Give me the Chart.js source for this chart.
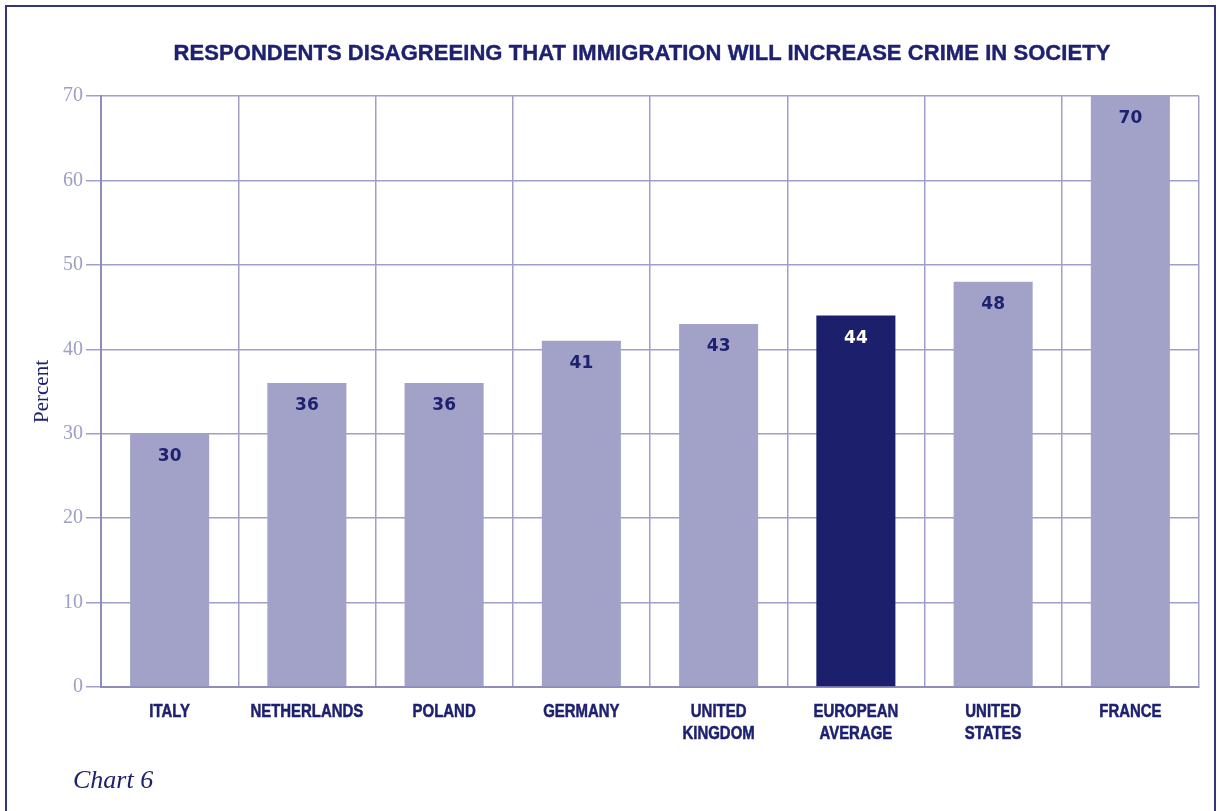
<!DOCTYPE html>
<html>
<head>
<meta charset="utf-8">
<script src="https://cdn.jsdelivr.net/npm/chart.js@4.4.1/dist/chart.umd.min.js"></script>
<style>
  html, body { margin: 0; padding: 0; background: #ffffff; overflow: hidden; }
  #wrap { position: relative; width: 1221px; height: 811px; }
  #frame {
    position: absolute; left: 5px; top: 5px; width: 1211px; height: 820px;
    border: 2px solid #33347c; box-sizing: border-box;
  }
  #title {
    position: absolute; left: 0; top: 40px; width: 1284px; text-align: center;
    font-family: "Liberation Sans", Arial, sans-serif; font-weight: bold;
    font-size: 22px; color: #1e2170; white-space: nowrap; letter-spacing: 0.06px;
    -webkit-text-stroke: 0.4px #1e2170;
  }
  #caption {
    position: absolute; left: 73px; top: 765px;
    font-family: "Liberation Serif", "Times New Roman", serif; font-style: italic;
    font-size: 26px; color: #1e2170;
  }
  canvas { position: absolute; left: 0; top: 0; }
</style>
</head>
<body>
<div id="wrap">
  <canvas id="c" width="1221" height="811"></canvas>
  <div id="frame"></div>
  <div id="title">RESPONDENTS DISAGREEING THAT IMMIGRATION WILL INCREASE CRIME IN SOCIETY</div>
  <div id="caption">Chart 6</div>
</div>
<script>
// Survey results: share of respondents who disagree that immigration increases crime
const categories = [
  ["ITALY"], ["NETHERLANDS"], ["POLAND"], ["GERMANY"],
  ["UNITED", "KINGDOM"], ["EUROPEAN", "AVERAGE"], ["UNITED", "STATES"], ["FRANCE"]
];
const percentValues = [30, 36, 36, 41, 43, 44, 48, 70];
const yTicks = [0, 10, 20, 30, 40, 50, 60, 70];
const highlightIndex = 5; // European average

const NAVY = "#1e2170";
const BAR_LIGHT = "#a2a2c8";
const BAR_DARK = "#1c1f6b";

// Value labels drawn just inside the top of each bar
const valueLabels = {
  id: "valueLabels",
  afterDatasetsDraw(chart) {
    const ctx = chart.ctx;
    const meta = chart.getDatasetMeta(0);
    ctx.save();
    ctx.font = "bold 17px 'DejaVu Sans', Verdana, sans-serif";
    ctx.textAlign = "center";
    ctx.textBaseline = "middle";
    meta.data.forEach((bar, i) => {
      ctx.fillStyle = i === highlightIndex ? "#ffffff" : NAVY;
      ctx.fillText(String(percentValues[i]), bar.x, bar.y + 23);
    });
    ctx.restore();
  }
};

// Condensed bold category labels under the x axis, placed at the scale's tick positions
const categoryLabels = {
  id: "categoryLabels",
  afterDraw(chart) {
    const ctx = chart.ctx;
    const xs = chart.scales.x;
    const squeeze = 0.83;
    const lineGap = 22;
    ctx.save();
    ctx.font = "bold 18px 'Liberation Sans', Arial, sans-serif";
    ctx.fillStyle = NAVY;
    ctx.strokeStyle = NAVY;
    ctx.lineWidth = 0.5;
    ctx.textAlign = "center";
    ctx.textBaseline = "middle";
    categories.forEach((lines, i) => {
      const x = xs.getPixelForTick(i);
      lines.forEach((line, j) => {
        const y = chart.chartArea.bottom + 25 + j * lineGap;
        ctx.save();
        ctx.translate(x, y);
        ctx.scale(squeeze, 1);
        ctx.fillText(line, 0, 0);
        ctx.strokeText(line, 0, 0);
        ctx.restore();
      });
    });
    ctx.restore();
  }
};

new Chart(document.getElementById("c"), {
  type: "bar",
  data: {
    labels: categories,
    datasets: [{
      data: percentValues,
      backgroundColor: percentValues.map((v, i) => i === highlightIndex ? BAR_DARK : BAR_LIGHT),
      borderWidth: 0,
      barPercentage: 0.576,
      categoryPercentage: 1.0
    }]
  },
  options: {
    responsive: false,
    animation: false,
    devicePixelRatio: 1,
    layout: { padding: { top: 96, right: 22, bottom: 0, left: 0 } },
    plugins: { legend: { display: false }, tooltip: { enabled: false } },
    scales: {
      x: {
        offset: true,
        grid: {
          offset: true,
          color: "#a09ecb",
          lineWidth: 1.5,
          drawTicks: false
        },
        border: { color: "#8e8cbd", width: 2 },
        ticks: { display: false, autoSkip: false },
        afterFit(scale) { scale.height = 124; }
      },
      y: {
        min: 0,
        max: 70,
        afterBuildTicks(scale) { scale.ticks = yTicks.map(v => ({ value: v })); },
        grid: {
          color: "#a09ecb",
          lineWidth: 1.5,
          tickLength: 15,
          tickColor: "#a09ecb"
        },
        border: { color: "#8e8cbd", width: 2 },
        ticks: {
          color: "#9d9dc6",
          padding: 3,
          font: { family: "'Liberation Serif', 'Times New Roman', serif", size: 20 }
        },
        title: {
          display: true,
          text: "Percent",
          color: NAVY,
          padding: { top: 30, bottom: 0 },
          font: { family: "'Liberation Serif', 'Times New Roman', serif", size: 21 }
        },
        afterFit(scale) { scale.width = 101; }
      }
    }
  },
  plugins: [valueLabels, categoryLabels]
});
</script>
</body>
</html>
